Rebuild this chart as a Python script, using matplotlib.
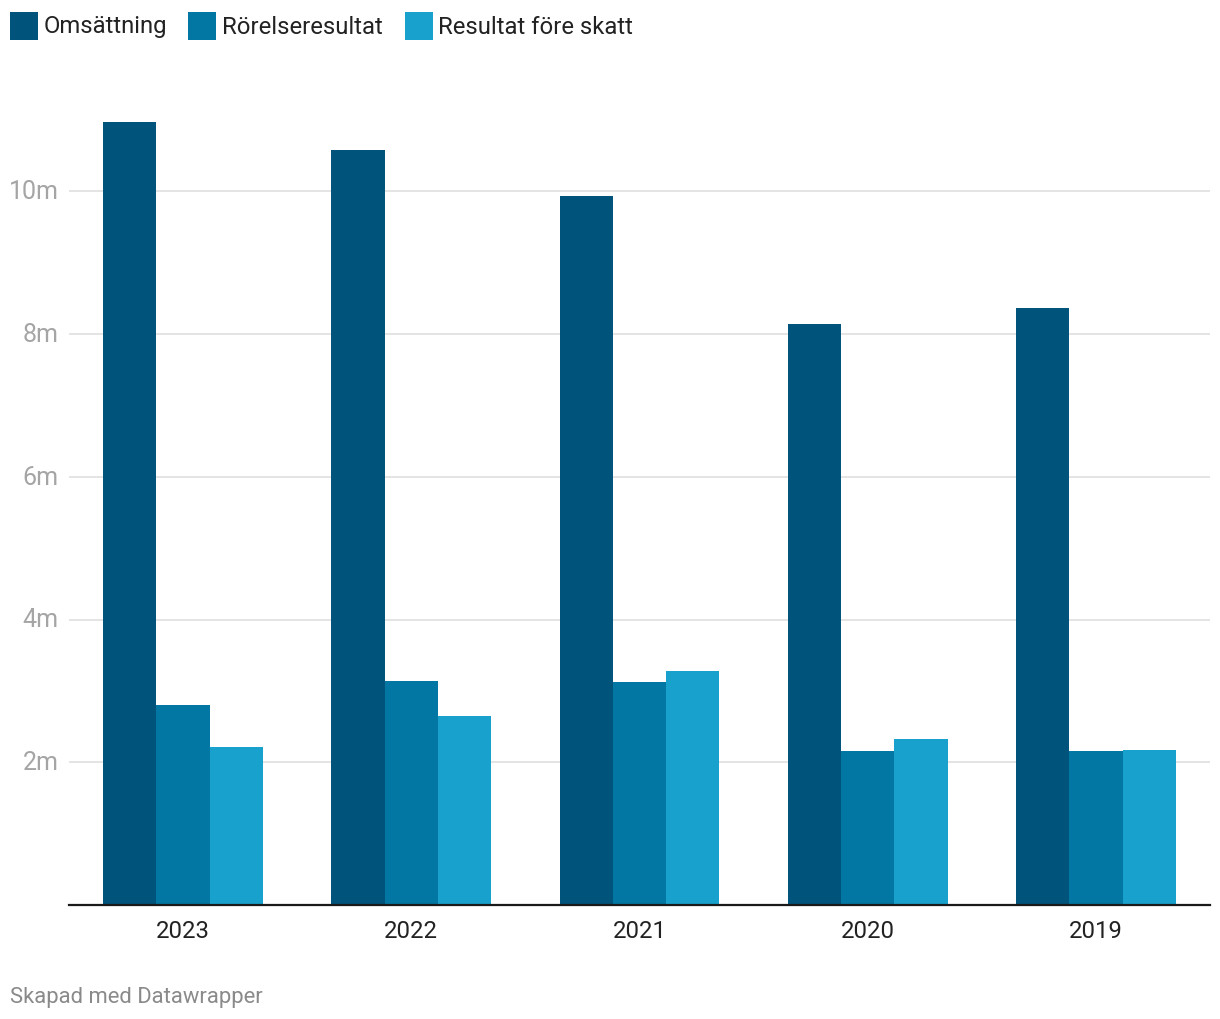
import matplotlib
matplotlib.use("Agg")
import matplotlib.pyplot as plt
import numpy as np
from matplotlib.patches import Rectangle

plt.rcParams['font.family'] = ['Roboto', 'DejaVu Sans']

years = ["2023", "2022", "2021", "2020", "2019"]
series_names = ["Omsättning", "Rörelseresultat", "Resultat före skatt"]
omsattning = [10.97, 10.58, 9.93, 8.14, 8.36]
rorelseresultat = [2.80, 3.14, 3.12, 2.16, 2.16]
resultat_fore_skatt = [2.21, 2.65, 3.28, 2.33, 2.17]
colors = ["#00537b", "#0277a3", "#19a1cd"]
yticks = [2, 4, 6, 8, 10]
ytick_labels = ["2m", "4m", "6m", "8m", "10m"]

W, H = 1220, 1020
fig = plt.figure(figsize=(W/100, H/100), dpi=100)
ax_left, ax_right, ax_bottom = 69, 1210, 906
ymax = 11.3
px_per_unit = 71.375
ax_top = ax_bottom - ymax * px_per_unit
ax = fig.add_axes([ax_left/W, 1 - ax_bottom/H, (ax_right-ax_left)/W, (ax_bottom-ax_top)/H])

x = np.arange(len(years))
bw = 0.2337
data = [omsattning, rorelseresultat, resultat_fore_skatt]
for i, (vals, c) in enumerate(zip(data, colors)):
    ax.bar(x + (i-1)*bw, vals, width=bw, color=c, zorder=3, linewidth=0)

ax.set_xlim(-0.5, len(years)-0.5)
ax.set_ylim(0, ymax)
for s in ['top', 'right', 'left']:
    ax.spines[s].set_visible(False)
ax.spines['bottom'].set_color('#1a1a1a')
ax.spines['bottom'].set_linewidth(1.6)
ax.spines['bottom'].set_zorder(4)
ax.set_yticks(yticks)
ax.set_yticklabels(ytick_labels)
ax.yaxis.grid(True, color='#e2e2e2', linewidth=1.3, zorder=0)
ax.tick_params(axis='y', length=0, pad=7.5, labelsize=18, labelcolor='#a5a5a5')
ax.set_xticks(x)
ax.set_xticklabels(years)
ax.tick_params(axis='x', length=0, pad=10, labelsize=17.2, labelcolor='#222222')
for lbl in ax.get_yticklabels():
    lbl.set_verticalalignment('center')

# legend
leg_items = [(10, 44), (188, 222), (405, 438)]
for (sx, tx), name, c in zip(leg_items, series_names, colors):
    fig.patches.append(Rectangle((sx/W, 1 - 41/H), 28/W, 28/H, transform=fig.transFigure,
                                 facecolor=c, edgecolor='none'))
    fig.text(tx/W, 1 - 27/H, name, fontsize=17.2, color='#222222', va='center', ha='left')

fig.text(10/W, 1 - 998/H, "Skapad med Datawrapper", fontsize=15.8, color='#8a8a8a',
         va='center', ha='left')

fig.savefig("out.png", dpi=100, facecolor='white')
